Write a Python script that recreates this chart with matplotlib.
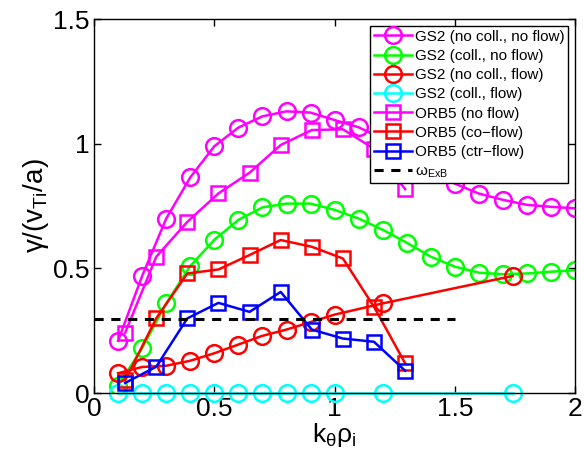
import numpy as np
import matplotlib
matplotlib.use("Agg")
import matplotlib.pyplot as plt

plt.rcParams["font.family"] = ["Liberation Sans", "DejaVu Sans"]
plt.rcParams["mathtext.fontset"] = "custom"
plt.rcParams["mathtext.rm"] = "Liberation Sans"
plt.rcParams["mathtext.it"] = "Liberation Sans"
plt.rcParams["mathtext.default"] = "regular"

# ---- GS2 scans ----
k_gs2 = np.round(np.arange(1, 21) * 0.1, 2)
gs2_nocoll_noflow = [0.21, 0.47, 0.70, 0.865, 0.99, 1.065, 1.11, 1.13, 1.125, 1.095,
                     1.066, 1.02, 0.96, 0.90, 0.84, 0.80, 0.775, 0.755, 0.747, 0.741]
gs2_coll_noflow = [0.03, 0.18, 0.36, 0.51, 0.615, 0.695, 0.745, 0.76, 0.76, 0.735,
                   0.70, 0.655, 0.603, 0.547, 0.507, 0.483, 0.477, 0.48, 0.487, 0.493]

k_gs2_flow = [0.1, 0.2, 0.3, 0.4, 0.5, 0.6, 0.7, 0.8, 0.9, 1.0, 1.2, 1.74]
gs2_nocoll_flow = [0.08, 0.105, 0.11, 0.13, 0.16, 0.195, 0.23, 0.255, 0.285, 0.315, 0.36, 0.47]
gs2_coll_flow = [0, 0, 0, 0, 0, 0, 0, 0, 0, 0, 0, 0]

# ---- ORB5 scans ----
k_orb5 = np.arange(1, 11) * 0.1293
orb5_noflow = [0.242, 0.547, 0.687, 0.801, 0.884, 0.995, 1.055, 1.058, 0.98, 0.818]
orb5_coflow = [0.052, 0.30, 0.48, 0.496, 0.554, 0.614, 0.587, 0.54, 0.346, 0.12]
orb5_ctrflow = [0.041, 0.106, 0.30, 0.362, 0.326, 0.406, 0.255, 0.219, 0.206, 0.09]

# ExB shearing rate
k_exb = [0, 1.5]
w_exb = [0.297, 0.297]

fig = plt.figure(figsize=(5.84, 4.54), dpi=100)
ax = fig.add_axes([0.161, 0.134, 0.824, 0.824])

circ = dict(marker="o", markersize=12, markerfacecolor="none", markeredgewidth=1.8, linewidth=1.8)
sq = dict(marker="s", markersize=10, markerfacecolor="none", markeredgewidth=1.8, linewidth=1.8)

ax.plot(k_gs2, gs2_nocoll_noflow, color="#ff00ff", label="GS2 (no coll., no flow)", **circ)
ax.plot(k_gs2, gs2_coll_noflow, color="#00ff00", label="GS2 (coll., no flow)", **circ)
ax.plot(k_gs2_flow, gs2_nocoll_flow, color="#ff0000", label="GS2 (no coll., flow)", **circ)
ax.plot(k_gs2_flow, gs2_coll_flow, color="#00ffff", label="GS2 (coll., flow)", clip_on=False, **circ)
ax.plot(k_orb5, orb5_noflow, color="#ff00ff", label="ORB5 (no flow)", **sq)
ax.plot(k_orb5, orb5_coflow, color="#ff0000", label="ORB5 (co\u2212flow)", **sq)
ax.plot(k_orb5, orb5_ctrflow, color="#0000ff", label="ORB5 (ctr\u2212flow)", **sq)
ax.plot(k_exb, w_exb, "k--", linewidth=2.2, dashes=(3, 2.5), label=r"$\omega_{ExB}$")

ax.set_xlim(0, 2)
ax.set_ylim(0, 1.5)
ax.set_xticks([0, 0.5, 1, 1.5, 2])
ax.set_xticklabels(["0", "0.5", "1", "1.5", "2"])
ax.set_yticks([0, 0.5, 1, 1.5])
ax.set_yticklabels(["0", "0.5", "1", "1.5"])
ax.tick_params(direction="in", top=True, right=True, labelsize=19, length=5, width=1, pad=3)
for s in ax.spines.values():
    s.set_linewidth(1)

ax.set_xlabel(r"$k_{\theta}\rho_{i}$", fontsize=19, labelpad=0)
ax.set_ylabel(r"$\gamma/(v_{Ti}/a)$", fontsize=20, labelpad=2)

leg = ax.legend(loc="upper right", fontsize=11, fancybox=False, framealpha=1,
                edgecolor="black", handlelength=2.5, handletextpad=0.2,
                borderpad=0.25, labelspacing=0.34, borderaxespad=0.45)
leg.get_frame().set_linewidth(1)

fig.savefig("out.png", dpi=100)
